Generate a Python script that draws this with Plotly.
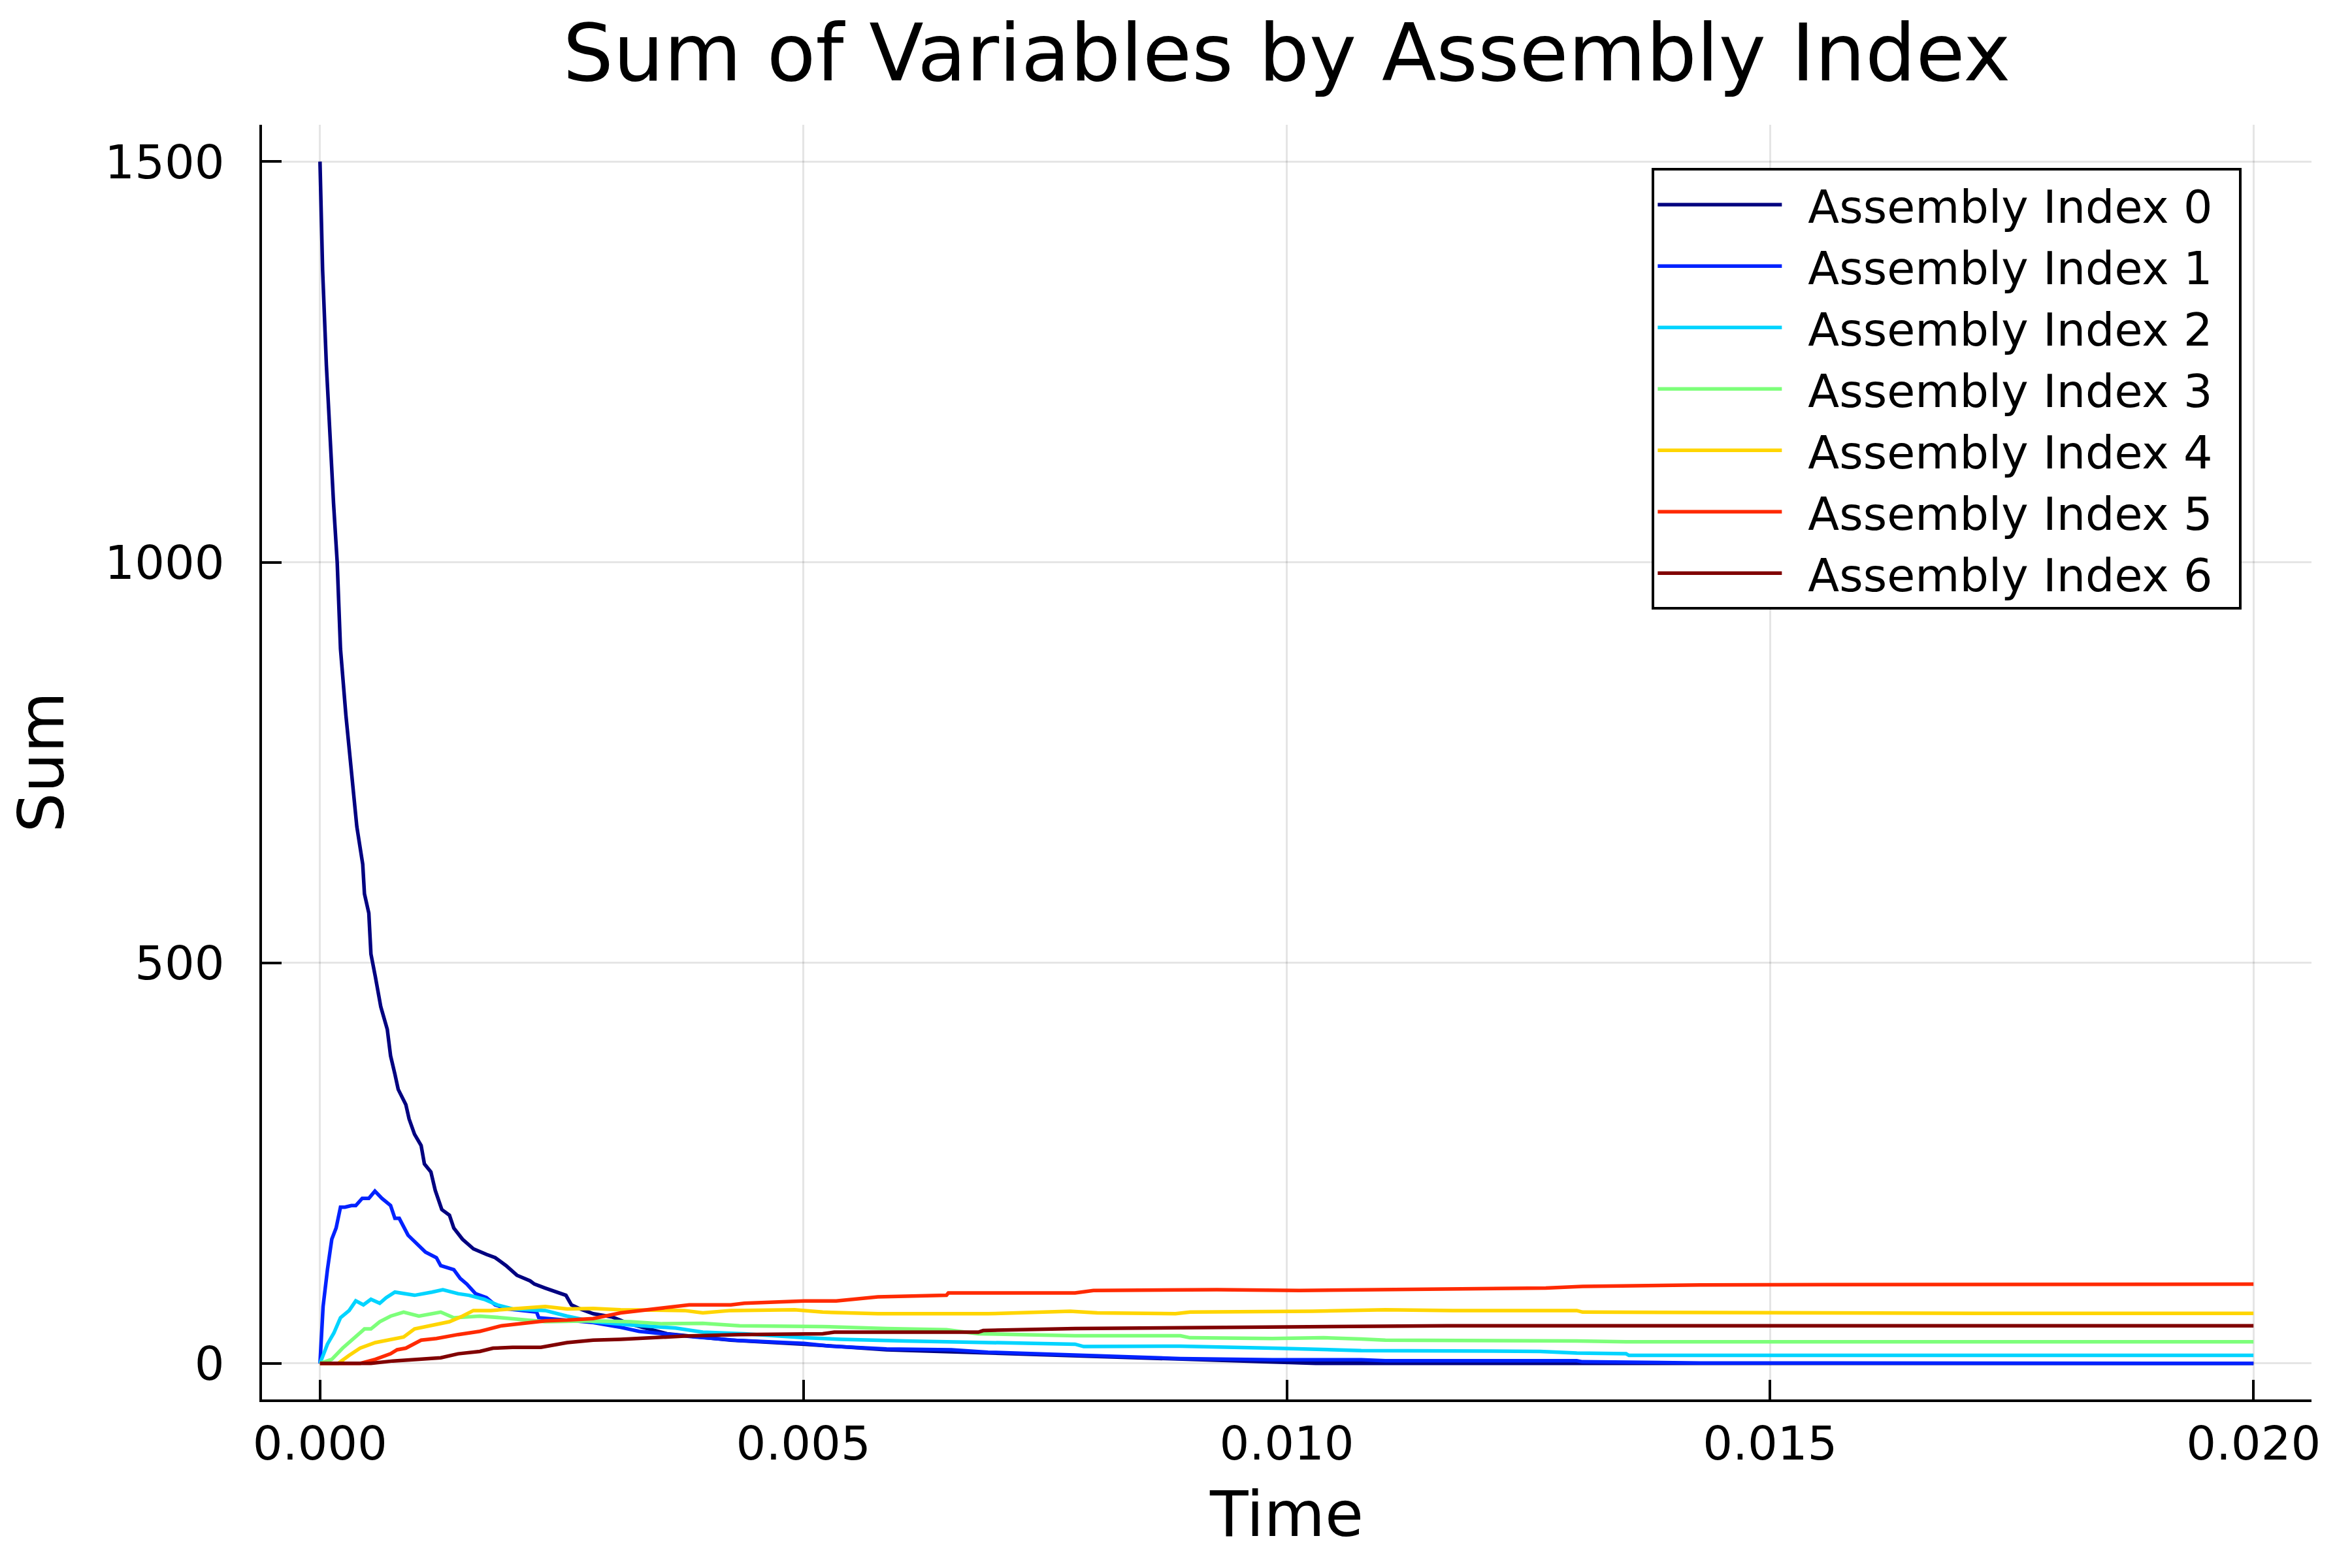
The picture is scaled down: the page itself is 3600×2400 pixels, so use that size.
import plotly.graph_objects as go

# values (time in seconds, sum per assembly index)
t0 = [0, 0.000027, 0.000066, 0.00010, 0.00014, 0.000178, 0.000212, 0.000268, 0.000313, 0.000336,
      0.000381, 0.000442, 0.000460, 0.000505, 0.000527, 0.000572, 0.000629, 0.000696, 0.000730,
      0.000775, 0.000809, 0.000888, 0.000922, 0.000978, 0.001046, 0.001080, 0.001147, 0.001192,
      0.001260, 0.001339, 0.001384, 0.001474, 0.001587, 0.001722, 0.001812, 0.001925, 0.002037,
      0.002173, 0.002218, 0.002330, 0.002443, 0.002544, 0.002601, 0.002691, 0.002826, 0.00302,
      0.00321, 0.00359, 0.00425, 0.00501, 0.00586, 0.00691, 0.00781, 0.0090, 0.00985, 0.0103, 0.020]
v0 = [1500, 1365, 1246, 1163, 1074, 1000, 892, 809, 752, 717,
      670, 623, 586, 562, 511, 483, 445, 417, 384,
      361, 342, 323, 305, 286, 272, 249, 239, 216,
      192, 185, 169, 155, 143, 136, 132, 122, 110,
      103, 99, 94, 89, 85, 73, 68, 62, 58,
      49, 37, 29, 24, 17, 13, 9, 5, 2, 0, 0]

t1 = [0, 0.000032, 0.000077, 0.000122, 0.000167, 0.000212, 0.000257, 0.000325, 0.000370, 0.000437,
      0.000505, 0.000568, 0.000640, 0.000730, 0.000775, 0.000820, 0.000911, 0.001023, 0.001091,
      0.001204, 0.001249, 0.001384, 0.001451, 0.001519, 0.001609, 0.001722, 0.001812, 0.001947,
      0.002240, 0.002263, 0.002556, 0.002826, 0.00311, 0.00330, 0.00387, 0.00434, 0.00501, 0.00529,
      0.00586, 0.00653, 0.00691, 0.00781, 0.00890, 0.00985, 0.01077, 0.01102, 0.0130, 0.01306,
      0.01428, 0.020]
v1 = [0, 71, 117, 155, 169, 195, 195, 197, 197, 206,
      206, 215, 206, 197, 181, 181, 160, 146, 139,
      132, 122, 117, 106, 99, 87, 82, 73, 68,
      64, 57, 54, 51, 45, 40, 33, 28.5, 25, 21.5,
      18, 17, 14, 10, 6, 4.6, 4.6, 3.3, 3.3, 2,
      0.5, 0]

t2 = [0, 0.000077, 0.000144, 0.000212, 0.000302, 0.000370, 0.000449, 0.000527, 0.000618, 0.000685,
      0.000775, 0.000888, 0.000978, 0.001158, 0.001271, 0.001429, 0.001542, 0.001699, 0.001835,
      0.001992, 0.002330, 0.002556, 0.002826, 0.00321, 0.00368, 0.00396, 0.00439, 0.00501, 0.00539,
      0.00605, 0.00691, 0.00781, 0.00790, 0.00890, 0.00985, 0.01077, 0.01262, 0.0130, 0.01351,
      0.01354, 0.020]
v2 = [0, 24, 38, 57, 66, 78, 73, 80, 75, 82,
      89, 87, 85, 89, 92, 87, 85, 80, 73,
      68, 66, 59, 52, 48, 44, 39, 37, 32, 30,
      28, 26, 24, 21, 21.5, 19, 16, 15, 13, 12,
      10, 10]

t3 = [0, 0.000122, 0.000234, 0.000325, 0.000460, 0.000527, 0.000618, 0.000730, 0.000865, 0.001023,
      0.001249, 0.001384, 0.001654, 0.001880, 0.002105, 0.002330, 0.002826, 0.00321, 0.00354,
      0.00396, 0.00434, 0.00520, 0.00586, 0.00648, 0.00681, 0.00781, 0.00890, 0.0090, 0.00985,
      0.01038, 0.01077, 0.01102, 0.0130, 0.01351, 0.020]
v3 = [0, 5, 19, 29, 43, 43, 52, 59, 64, 59,
      64, 57, 59, 57, 54, 52, 53, 52, 49.5,
      50, 47, 46, 43.5, 42, 37, 34.5, 34.5, 32, 31,
      32, 30.5, 29, 28, 27, 27]

t4 = [0, 0.000189, 0.000302, 0.000415, 0.000572, 0.000753, 0.000865, 0.000978, 0.001158, 0.001339,
      0.001474, 0.001587, 0.001767, 0.001970, 0.002330, 0.002556, 0.002826, 0.00311, 0.00377,
      0.00396, 0.00425, 0.00491, 0.00520, 0.00577, 0.00653, 0.00691, 0.00776, 0.00804, 0.00885,
      0.0090, 0.01026, 0.01102, 0.01172, 0.0130, 0.01306, 0.01415, 0.01715, 0.020]
v4 = [0, 0, 10, 19, 26, 31, 33, 43, 47, 52,
      59, 66, 66, 68, 71, 68, 68.5, 67, 66,
      63, 66, 67, 64, 62, 62, 62, 65, 63, 62,
      64, 65, 67, 66, 66, 64, 63.5, 62.5, 62.5]

t5 = [0, 0.000415, 0.000572, 0.000730, 0.000798, 0.000888, 0.001046, 0.001204, 0.001429, 0.001654,
      0.001880, 0.002105, 0.002330, 0.002556, 0.002826, 0.00311, 0.00344, 0.00382, 0.00425,
      0.00439, 0.00501, 0.00534, 0.00577, 0.00648, 0.00650, 0.00781, 0.0080, 0.00928, 0.01013,
      0.01077, 0.01268, 0.01306, 0.01351, 0.01428, 0.020]
v5 = [0, 0, 5, 12, 17, 19, 29, 31, 36, 40,
      47, 50, 53, 54, 56, 63, 68, 73, 73,
      75, 78, 78, 83, 85, 88, 88, 91, 92, 91,
      92, 94, 96, 97, 98, 99]

t6 = [0, 0.000527, 0.000753, 0.000978, 0.001249, 0.001429, 0.001654, 0.001790, 0.001992, 0.002285,
      0.002556, 0.002826, 0.00311, 0.00377, 0.00434, 0.00520, 0.00532, 0.00681, 0.00686, 0.00781,
      0.00852, 0.00994, 0.01102, 0.01166, 0.020]
v6 = [0, 0, 3, 5, 7, 12, 15, 19, 20, 20,
      26, 29, 30, 34, 36, 37, 39, 39, 41, 43.5,
      44, 45, 45.5, 47, 47]

times = [t0, t1, t2, t3, t4, t5, t6]
sums = [v0, v1, v2, v3, v4, v5, v6]
names = ["Assembly Index %d" % i for i in range(7)]
colors = ["#000080", "#0022FF", "#00D4FF", "#7DFF7A", "#FFD500", "#FF2A00", "#800000"]

xticks = [0, 0.005, 0.010, 0.015, 0.020]
yticks = [0, 500, 1000, 1500]

font = "DejaVu Sans"

fig = go.Figure()
for t, v, n, c in zip(times, sums, names, colors):
    # en spaces give the legend text some room on both sides
    fig.add_trace(go.Scatter(x=t, y=v, name="\u2002" + n + "\u2002", mode="lines",
                             line=dict(color=c, width=5.5)))

fig.update_layout(
    width=3600, height=2400,
    paper_bgcolor="white", plot_bgcolor="white",
    margin=dict(l=393, r=70, t=183, b=266),
    font=dict(family=font, size=72, color="black"),
    title=dict(text="Sum of Variables by Assembly Index", x=0.5, xref="paper",
               y=1 - 72 / 2400, yref="container", yanchor="middle",
               font=dict(size=122)),
    legend=dict(x=0.966, y=0.966, xanchor="right", yanchor="top",
                bgcolor="white", bordercolor="black", borderwidth=4,
                font=dict(size=70), itemwidth=190),
)

fig.update_xaxes(
    range=[-0.0006, 0.0206], tickvals=xticks, tickformat=".3f",
    showline=True, linecolor="black", linewidth=4,
    ticks="inside", ticklen=30, tickwidth=4, tickcolor="black",
    showgrid=True, gridcolor="rgba(0,0,0,0.1)", gridwidth=2.5,
    zeroline=False, ticklabelstandoff=2,
    title=dict(text="Time", font=dict(size=96), standoff=34),
)
fig.update_yaxes(
    range=[-45, 1546], tickvals=yticks,
    showline=True, linecolor="black", linewidth=4,
    ticks="inside", ticklen=30, tickwidth=4, tickcolor="black",
    showgrid=True, gridcolor="rgba(0,0,0,0.1)", gridwidth=2.5,
    zeroline=False, ticklabelstandoff=39,
    title=dict(text="Sum", font=dict(size=96), standoff=60),
)

fig.write_html("out.html")
